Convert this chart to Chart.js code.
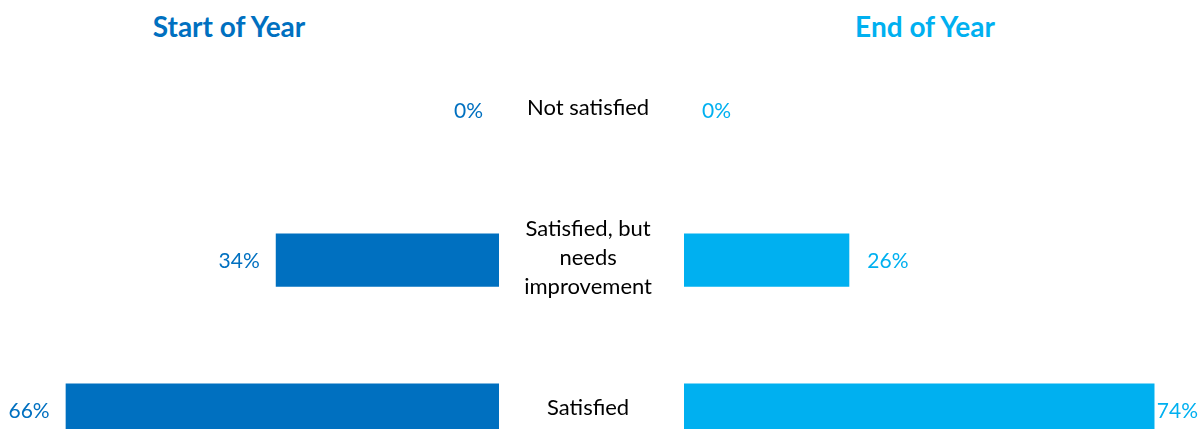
<!DOCTYPE html>
<html>
<head>
<meta charset="utf-8">
<script src="https://cdn.jsdelivr.net/npm/chart.js@4/dist/chart.umd.min.js"></script>
<style>
  html, body { margin: 0; padding: 0; background: #fff; overflow: hidden; width: 1199px; height: 429px; }
  #leftWrap { position: absolute; left: 0; top: 0; width: 499px; height: 500px; }
  #rightWrap { position: absolute; left: 492px; top: 0; width: 707px; height: 500px; }
  .title { position: absolute; top: 9px; font-family: Lato, "Open Sans", sans-serif; font-weight: bold; font-size: 28px; transform: translateX(-50%); white-space: nowrap; }
</style>
</head>
<body>
<div class="title" style="left:229px; color:#0070C0;">Start of Year</div>
<div class="title" style="left:925px; color:#00B0F0;">End of Year</div>
<div id="leftWrap"><canvas id="left"></canvas></div>
<div id="rightWrap"><canvas id="right"></canvas></div>
<script>
const categories = ["Not satisfied", ["Satisfied, but", "needs", "improvement"], "Satisfied"];
const startOfYear = [0, 34, 66];
const endOfYear = [0, 26, 74];
const seriesNames = ["Start of Year", "End of Year"];

const FONT = "Lato, 'Open Sans', sans-serif";

function valueLabels(side, color) {
  return {
    id: 'valueLabels',
    afterDatasetsDraw(chart) {
      const ctx = chart.ctx;
      const meta = chart.getDatasetMeta(0);
      const data = chart.data.datasets[0].data;
      ctx.save();
      ctx.font = "21px " + FONT;
      ctx.fillStyle = color;
      ctx.textBaseline = 'middle';
      meta.data.forEach((bar, i) => {
        const txt = data[i] + '%';
        const w = ctx.measureText(txt).width;
        if (side === 'left') {
          ctx.textAlign = 'right';
          ctx.fillText(txt, bar.x - 16, bar.y + 1);
        } else {
          ctx.textAlign = 'left';
          let x = bar.x + 18;
          x = Math.min(x, chart.width - w - 1);
          ctx.fillText(txt, x, bar.y + 1);
        }
      });
      ctx.restore();
    }
  };
}

new Chart(document.getElementById('left'), {
  type: 'bar',
  data: {
    labels: categories,
    datasets: [{ label: seriesNames[0], data: startOfYear, backgroundColor: '#0070C0',
      categoryPercentage: 1, barPercentage: 0.355 }]
  },
  options: {
    indexAxis: 'y',
    responsive: true, maintainAspectRatio: false, animation: false,
    layout: { padding: { top: 35, bottom: 15, left: 0, right: 0 } },
    plugins: { legend: { display: false }, tooltip: { enabled: false }, title: { display: false } },
    scales: {
      x: { min: 0, max: 76, reverse: true, display: false },
      y: { display: false }
    }
  },
  plugins: [valueLabels('left', '#0070C0')]
});

new Chart(document.getElementById('right'), {
  type: 'bar',
  data: {
    labels: categories,
    datasets: [{ label: seriesNames[1], data: endOfYear, backgroundColor: '#00B0F0',
      categoryPercentage: 1, barPercentage: 0.355 }]
  },
  options: {
    indexAxis: 'y',
    responsive: true, maintainAspectRatio: false, animation: false,
    layout: { padding: { top: 35, bottom: 15, left: 0, right: 0 } },
    plugins: { legend: { display: false }, tooltip: { enabled: false }, title: { display: false } },
    scales: {
      x: { min: 0, max: 81, display: false },
      y: {
        position: 'left',
        grid: { display: true, drawOnChartArea: false, drawTicks: true, tickLength: 32, color: 'rgba(0,0,0,0)' },
        border: { display: false },
        afterFit(scale) { scale.width = 192; },
        ticks: {
          crossAlign: 'center',
          padding: 0,
          labelOffset: -2,
          color: '#000',
          font: { family: FONT, size: 22, lineHeight: 1.3 }
        }
      }
    }
  },
  plugins: [valueLabels('right', '#00B0F0')]
});
</script>
</body>
</html>
